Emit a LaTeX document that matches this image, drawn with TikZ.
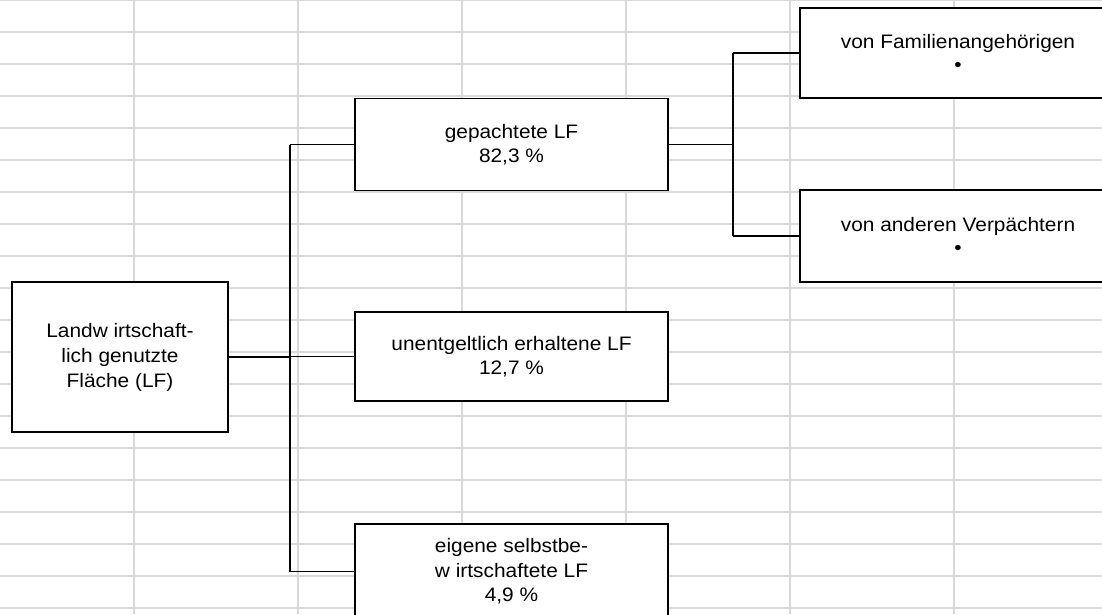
\documentclass[tikz,border=0pt]{standalone}
\usepackage{fontspec}
\setmainfont{Liberation Sans}[FakeStretch=1.07]
\begin{document}
\begin{tikzpicture}[x=1pt,y=-1pt,
  gridline/.style={draw=black!15,line width=1.7pt},
  box/.style={draw=black,fill=white,line width=1.3pt,rectangle,align=center,inner sep=0pt,
    font=\fontsize{19.5}{23.5}\selectfont},
  link/.style={draw=black,line width=1.3pt}]
\useasboundingbox (0,0) rectangle (1102,614);
\clip (0,0) rectangle (1102,614);
\fill[white] (0,0) rectangle (1102,614);
% grid
\foreach \k in {-1,...,18}{\draw[gridline] (0,{31.7+32*\k}) -- (1102,{31.7+32*\k});}
\foreach \k in {0,...,5}{\draw[gridline] ({134+164*\k},0) -- ({134+164*\k},614);}
% boxes
\node[box,minimum width=216pt,minimum height=150pt,font=\fontsize{19.5}{25}\selectfont] (root) at (120,357) {Landw irtschaft-\\lich genutzte\\Fläche (LF)};
\node[box,minimum width=313pt,minimum height=92pt] (gep) at (511.5,144.5) {gepachtete LF\\82,3 \%};
\node[box,minimum width=313pt,minimum height=89pt] (unent) at (511.5,356.5) {unentgeltlich erhaltene LF\\12,7 \%};
\node[box,minimum width=313pt,minimum height=95pt,font=\fontsize{19.5}{24.5}\selectfont] (eig) at (511.5,571.5) {eigene selbstbe-\\w irtschaftete LF\\4,9 \%};
\node[box,minimum width=316pt,minimum height=90pt] (fam) at (958,53) {von Familienangehörigen\\•};
\node[box,minimum width=316pt,minimum height=92pt] (verp) at (958,236) {von anderen Verpächtern\\•};
% connectors
\coordinate (j1) at (290,356);
\coordinate (j2) at (733,146);
\draw[link] (root.east) -- (root.east -| j1);
\draw[link] (j1 |- gep.west) -- (j1 |- eig.west);
\draw[link] (j1 |- gep.west) -- (gep.west);
\draw[link] (j1 |- unent.west) -- (unent.west);
\draw[link] (j1 |- eig.west) -- (eig.west);
\draw[link] (gep.east) -- (gep.east -| j2);
\draw[link] (j2 |- fam.west) -- (j2 |- verp.west);
\draw[link] (j2 |- fam.west) -- (fam.west);
\draw[link] (j2 |- verp.west) -- (verp.west);
\end{tikzpicture}
\end{document}
